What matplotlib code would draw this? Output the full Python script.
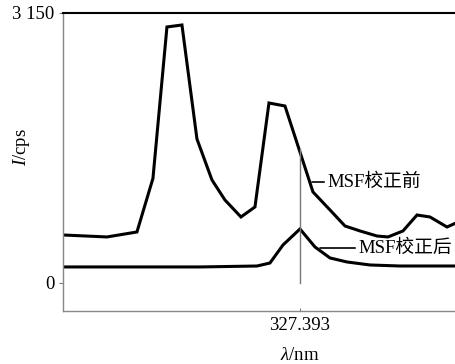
import matplotlib
matplotlib.use('Agg')
from matplotlib import pyplot as plt

plt.rcParams['font.family'] = ['Liberation Serif', 'Noto Sans CJK SC']
plt.rcParams['mathtext.fontset'] = 'custom'
plt.rcParams['mathtext.rm'] = 'Liberation Serif'
plt.rcParams['mathtext.it'] = 'Liberation Serif:italic'

# spectrum before MSF correction
wl_before = [327.3456, 327.3544, 327.3604, 327.3636, 327.3664, 327.3694, 327.3724,
             327.3754, 327.3780, 327.3812, 327.3840, 327.3868, 327.3900, 327.3930,
             327.3956, 327.3990, 327.4020, 327.4050, 327.4084, 327.4106, 327.4136,
             327.4164, 327.4190, 327.4224, 327.4242]
i_before = [560, 537, 595, 1220, 2987, 3010, 1680, 1202, 968, 770, 887, 2100,
            2065, 1528, 1062, 852, 665, 607, 548, 537, 607, 793, 770, 653, 700]

# spectrum after MSF correction
wl_after = [327.3456, 327.3730, 327.3844, 327.3870, 327.3896, 327.3930, 327.3960,
            327.3990, 327.4024, 327.4070, 327.4130, 327.4242]
i_after = [187, 187, 198, 233, 443, 630, 420, 292, 245, 210, 198, 198]

peak_wl = 327.393
peak_label = '327.393'
y_ticks = [0, 3150]
y_ticklabels = ['0', '3 150']

fs = 13.5

fig = plt.figure(figsize=(4.56, 3.64), dpi=100)
ax = fig.add_axes([0.138, 0.1456, 0.862, 0.8187])

ax.plot(wl_before, i_before, color='black', lw=2.2, solid_joinstyle='miter')
ax.plot(wl_after, i_after, color='black', lw=2.2, solid_joinstyle='miter')
ax.plot([peak_wl, peak_wl], [0, 1560], color='#777777', lw=1)

ax.annotate('MSF校正前', xy=(327.3954, 1178), xytext=(327.3984, 1178),
            va='center', ha='left', fontsize=fs,
            arrowprops=dict(arrowstyle='-', color='black', lw=1.2, shrinkA=0, shrinkB=0))
ax.annotate('MSF校正后', xy=(327.3970, 408), xytext=(327.4046, 408),
            va='center', ha='left', fontsize=fs,
            arrowprops=dict(arrowstyle='-', color='black', lw=1.2, shrinkA=0, shrinkB=0))

ax.set_xlim(wl_before[0], wl_before[-1])
ax.set_ylim(-327, 3150)
ax.set_xticks([peak_wl])
ax.set_xticklabels([peak_label], fontsize=fs)
ax.set_yticks(y_ticks)
ax.set_yticklabels(y_ticklabels, fontsize=fs)
ax.tick_params(axis='x', direction='in', length=2, color='#777777', pad=4)
ax.tick_params(axis='y', direction='out', length=3, color='#777777', pad=3)

for side in ['left', 'bottom']:
    ax.spines[side].set_color('#888888')
    ax.spines[side].set_linewidth(1)
ax.spines['right'].set_visible(False)
ax.spines['top'].set_color('black')
ax.spines['top'].set_linewidth(1.5)

fig.text(22 / 456, 1 - 147 / 364, '$I$/cps', rotation=90, ha='center', va='center', fontsize=fs)
fig.text(300 / 456, 1 - 355 / 364, r'$\lambda$/nm', ha='center', va='center', fontsize=fs)

fig.savefig('out.png', dpi=100)
